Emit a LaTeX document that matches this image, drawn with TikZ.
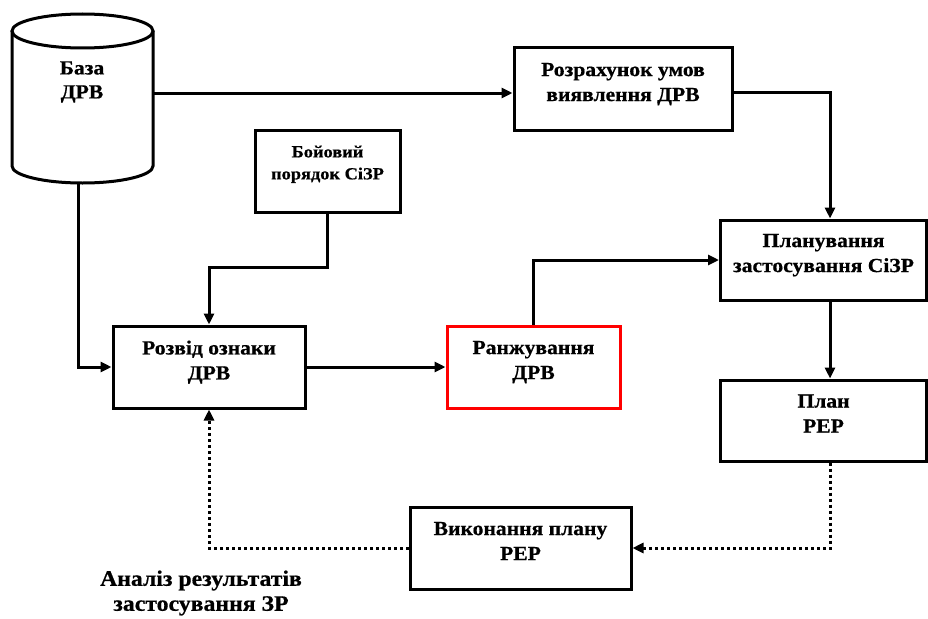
\documentclass[tikz,border=0pt]{standalone}
\usepackage{fontspec}
\setmainfont{Liberation Serif}[BoldFeatures={FakeStretch=1.08,FakeBold=0.6}]
\usetikzlibrary{arrows.meta,calc}
\begin{document}
\begin{tikzpicture}[x=1pt,y=-1pt,
  box/.style={draw,line width=3pt,rectangle,align=center,inner sep=0pt,
    font=\fontsize{20}{25}\selectfont\bfseries,text depth=14pt},
  smallbox/.style={box,font=\fontsize{17}{22}\selectfont\bfseries,text depth=17pt},
  lbl/.style={align=center,inner sep=0pt,font=\fontsize{20}{24}\selectfont\bfseries},
  conn/.style={line width=3pt,-{Triangle[length=11pt,width=10pt]}},
  dotconn/.style={conn,dash pattern=on 3pt off 3pt}]
\useasboundingbox (0,0) rectangle (928,618);
% cylinder
\draw[line width=3pt] (12,31) -- (12,166) arc[start angle=180,end angle=360,x radius=70.5,y radius=-17] -- (153,31);
\draw[line width=3pt] (82.5,31) ellipse[x radius=70.5,y radius=17];
\node[lbl] (db) at (82,82) {База\\ДРВ};
\coordinate (dbE) at (153,93);
\coordinate (dbS) at (78,183);
% boxes
\node[box,minimum width=218pt,minimum height=82pt] (raz) at (623,89) {Розрахунок умов\\виявлення ДРВ};
\node[smallbox,minimum width=145pt,minimum height=82pt] (boy) at (327.5,171) {Бойовий\\порядок СіЗР};
\node[box,minimum width=206pt,minimum height=80pt] (plan) at (823.5,260) {Планування\\застосування СіЗР};
\node[box,minimum width=192pt,minimum height=82pt] (rozv) at (209,367) {Розвід ознаки\\ДРВ};
\node[box,draw=red,minimum width=173pt,minimum height=82pt] (ranzh) at (533.5,367) {Ранжування\\ДРВ};
\node[box,minimum width=206pt,minimum height=81pt] (rep) at (823.5,420.5) {План\\РЕР};
\node[box,minimum width=221pt,minimum height=82pt] (vyk) at (520.5,548) {Виконання плану\\РЕР};
\node[lbl,font=\fontsize{22}{25}\selectfont\bfseries] (an) at (201,593) {Аналіз результатів\\застосування ЗР};
\coordinate (bend) at (0,267);
% connectors
\draw[conn] (dbE) -- (raz.west |- dbE);
\draw[conn] (raz.east |- 0,92) -| ([xshift=6.5pt]plan.north);
\draw[conn] (dbS) |- (rozv.west);
\draw[conn] (boy.south) -- (boy.south |- bend) -| (rozv.north);
\draw[conn] (rozv.east) -- (ranzh.west);
\draw[conn] (ranzh.north) |- (plan.west);
\draw[conn] ([xshift=6.5pt]plan.south) -- ([xshift=6.5pt]rep.north);
\draw[dotconn] ([xshift=6.5pt]rep.south) |- (vyk.east);
\draw[dotconn] (vyk.west) -| (rozv.south);
\end{tikzpicture}
\end{document}
